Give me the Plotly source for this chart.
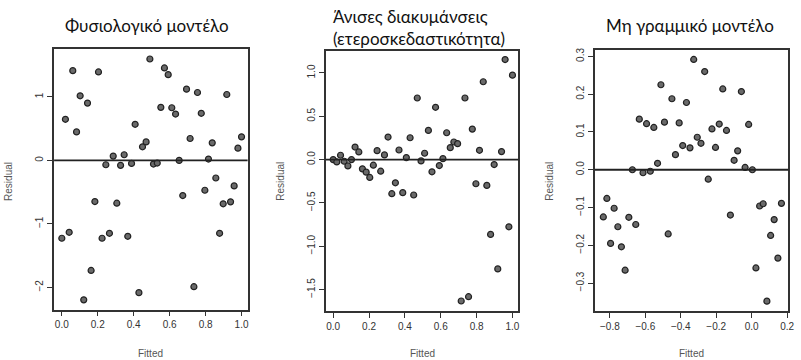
import plotly.graph_objects as go

# ---------------- data ----------------
titles = ["Φυσιολογικό μοντέλο", "Άνισες διακυμάνσεις<br>(ετεροσκεδαστικότητα)", "Μη γραμμικό μοντέλο"]

fit1 = [0.000, 0.020, 0.041, 0.061, 0.082, 0.102, 0.122, 0.143, 0.163, 0.184,
        0.204, 0.224, 0.245, 0.265, 0.286, 0.306, 0.327, 0.347, 0.367, 0.388,
        0.408, 0.429, 0.449, 0.469, 0.490, 0.510, 0.531, 0.551, 0.571, 0.592,
        0.612, 0.633, 0.653, 0.673, 0.694, 0.714, 0.735, 0.755, 0.776, 0.796,
        0.816, 0.837, 0.857, 0.878, 0.898, 0.918, 0.939, 0.959, 0.980, 1.000]
res1 = [-1.227, 0.648, -1.133, 1.415, 0.449, 1.018, -2.198, 0.903, -1.734, -0.648,
        1.394, -1.227, -0.068, -1.149, 0.068, -0.674, -0.078, 0.089, -1.196, -0.047,
        0.569, -2.084, 0.214, 0.292, 1.598, -0.057, -0.042, 0.836, 1.457, 1.352,
        0.830, 0.731, 0.000, -0.554, 1.123, 0.345, -1.990, 1.070, 0.742, -0.470,
        0.021, 0.277, -0.277, -1.149, -0.684, 1.039, -0.653, -0.402, 0.193, 0.371]

fit2 = fit1
res2 = [0.000, -0.027, 0.050, -0.019, -0.073, 0.000, 0.145, 0.088, -0.107, -0.145,
        -0.206, -0.065, 0.103, -0.134, 0.054, 0.260, -0.394, -0.268, 0.111, -0.382,
        0.023, 0.252, -0.409, 0.711, -0.015, 0.073, 0.337, -0.141, 0.604, -0.069,
        0.011, 0.310, 0.138, 0.203, 0.184, -1.633, 0.711, -1.583, 0.352, -0.279,
        0.107, 0.899, -0.298, -0.864, -0.057, -1.262, 0.092, 1.155, -0.776, 0.975]

fit3 = [-0.837, -0.817, -0.796, -0.776, -0.755, -0.735, -0.714, -0.693, -0.673, -0.654,
        -0.634, -0.613, -0.593, -0.572, -0.552, -0.531, -0.512, -0.492, -0.471, -0.450,
        -0.430, -0.409, -0.389, -0.368, -0.348, -0.327, -0.307, -0.286, -0.265, -0.245,
        -0.224, -0.204, -0.183, -0.163, -0.142, -0.120, -0.099, -0.079, -0.058, -0.037,
        -0.017, 0.004, 0.024, 0.045, 0.065, 0.086, 0.107, 0.127, 0.148, 0.168]
res3 = [-0.125, -0.076, -0.195, -0.102, -0.151, -0.204, -0.266, -0.126, 0.000, -0.145,
        0.134, -0.008, 0.122, -0.004, 0.112, 0.017, 0.225, 0.126, -0.170, 0.188,
        0.040, 0.124, 0.064, 0.178, 0.058, 0.292, 0.086, 0.070, 0.260, -0.025,
        0.108, 0.059, 0.121, 0.214, 0.104, -0.120, 0.025, 0.050, 0.207, 0.006,
        0.120, 0.000, -0.260, -0.096, -0.090, -0.348, -0.174, -0.132, -0.234, -0.089]

xticks12 = [0.0, 0.2, 0.4, 0.6, 0.8, 1.0]
xticks12_text = ["0.0", "0.2", "0.4", "0.6", "0.8", "1.0"]
xticks3 = [-0.8, -0.6, -0.4, -0.2, 0.0, 0.2]
xticks3_text = ["−0.8", "−0.6", "−0.4", "−0.2", "0.0", "0.2"]
yticks1 = [-2, -1, 0, 1]
yticks1_text = ["−2", "−1", "0", "1"]
yticks2 = [-1.5, -1.0, -0.5, 0.0, 0.5, 1.0]
yticks2_text = ["−1.5", "−1.0", "−0.5", "0.0", "0.5", "1.0"]
yticks3 = [-0.3, -0.2, -0.1, 0.0, 0.1, 0.2, 0.3]
yticks3_text = ["−0.3", "−0.2", "−0.1", "0.0", "0.1", "0.2", "0.3"]

# ---------------- layout geometry ----------------
W, H = 801, 360
panels = [
    dict(x=fit1, y=res1, xd=(54.5, 249.5), yd=(47, 309.3), xr=(-0.043, 1.034), yr=(-2.351, 1.76),
         xt=(xticks12, xticks12_text), yt=(yticks1, yticks1_text)),
    dict(x=fit2, y=res2, xd=(328.3, 522.3), yd=(49, 310.7), xr=(-0.041, 1.033), yr=(-1.748, 1.257),
         xt=(xticks12, xticks12_text), yt=(yticks2, yticks2_text)),
    dict(x=fit3, y=res3, xd=(599.3, 794.3), yd=(48.3, 310.7), xr=(-0.885, 0.207), yr=(-0.374, 0.317),
         xt=(xticks3, xticks3_text), yt=(yticks3, yticks3_text)),
]

fig = go.Figure()
axis_color = "#333333"
tick_font = dict(family="Liberation Sans, Arial, sans-serif", size=10, color="#333333")
lab_font = dict(family="Liberation Sans, Arial, sans-serif", size=10, color="#555555")

for i, p in enumerate(panels):
    n = "" if i == 0 else str(i + 1)
    fig.add_trace(go.Scatter(
        x=p["x"], y=p["y"], mode="markers", xaxis="x" + n, yaxis="y" + n,
        marker=dict(size=6, color="#6a6a6a", line=dict(color="#222222", width=1.2)),
        showlegend=False, hoverinfo="skip"))
    common = dict(showline=True, mirror=True, linecolor=axis_color, linewidth=1.5,
                  ticks="outside", ticklen=5, tickwidth=1.2, tickcolor=axis_color,
                  showgrid=False, zeroline=False, tickfont=tick_font, fixedrange=True)
    fig.update_layout({
        "xaxis" + n: dict(domain=[p["xd"][0] / W, p["xd"][1] / W], range=list(p["xr"]),
                          anchor="y" + n, tickvals=p["xt"][0], ticktext=p["xt"][1], **common),
        "yaxis" + n: dict(domain=[1 - p["yd"][1] / H, 1 - p["yd"][0] / H], range=list(p["yr"]),
                          anchor="x" + n, tickvals=p["yt"][0], ticktext=p["yt"][1],
                          tickangle=-90, **common),
    })
    # zero reference line
    fig.add_shape(type="line", xref="x" + n + " domain", yref="y" + n, x0=0, x1=1, y0=0, y1=0,
                  line=dict(color="#222222", width=1.8))
    # axis titles
    xc = (p["xd"][0] + p["xd"][1]) / 2 / W
    fig.add_annotation(text="Fitted", x=xc, y=1 - 353 / H, xref="paper", yref="paper",
                       xanchor="center", yanchor="middle", showarrow=False, font=lab_font)
    fig.add_annotation(text="Residual", x=(p["xd"][0] - 46.5) / W, y=1 - 180 / H,
                       xref="paper", yref="paper", xanchor="center", yanchor="middle",
                       showarrow=False, textangle=-90, font=lab_font)

title_font = dict(family="Lato, Noto Sans, sans-serif", size=17, color="#111111")
fig.add_annotation(text=titles[0], x=148 / W, y=1 - 24 / H, xref="paper", yref="paper",
                   xanchor="center", yanchor="middle", showarrow=False, font=title_font)
fig.add_annotation(text=titles[1], x=333 / W, y=1 - 26 / H, xref="paper", yref="paper",
                   xanchor="left", yanchor="middle", showarrow=False, font=title_font, align="left")
fig.add_annotation(text=titles[2], x=695 / W, y=1 - 24 / H, xref="paper", yref="paper",
                   xanchor="center", yanchor="middle", showarrow=False, font=title_font)

fig.update_layout(width=W, height=H, margin=dict(l=0, r=0, t=0, b=0),
                  paper_bgcolor="white", plot_bgcolor="white")

fig.write_html("out.html", config={"displayModeBar": False},
               post_script="document.body.style.margin='0';document.body.style.padding='0';")
